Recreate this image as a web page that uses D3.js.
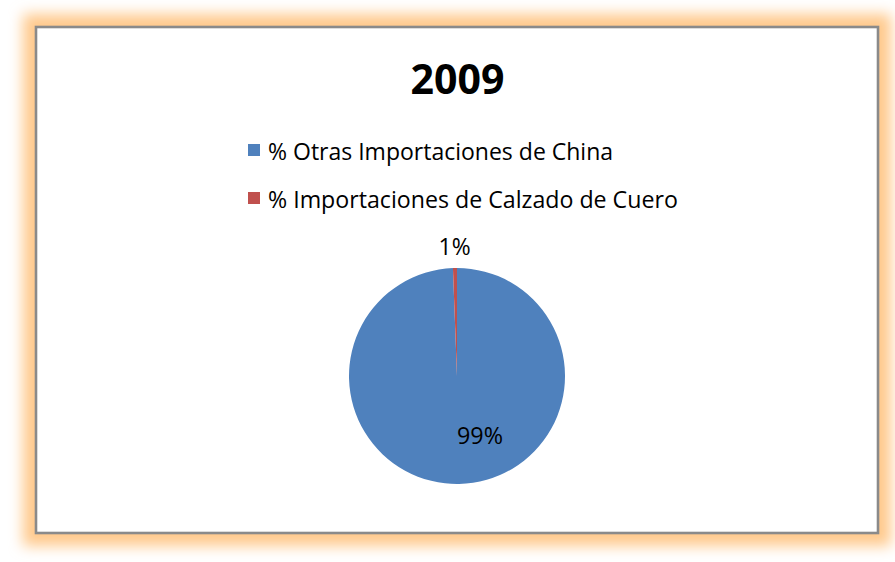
<!DOCTYPE html>
<html>
<head>
<meta charset="utf-8">
<script src="https://cdn.jsdelivr.net/npm/d3@7"></script>
<style>
  html, body { margin: 0; padding: 0; background: #ffffff; }
  svg { display: block; }
  text { font-family: "Open Sans", "Noto Sans", "DejaVu Sans", sans-serif; fill: #000; }
</style>
</head>
<body>
<svg id="chart" width="895" height="562"></svg>
<script>
// Share of imports from China, 2009
const title = "2009";
const categories = ["% Otras Importaciones de China", "% Importaciones de Calzado de Cuero"];
const shares = [99.4, 0.6];
const colors = ["#4F81BD", "#C0504D"];

const W = 895, H = 562;
const svg = d3.select("#chart");

// Frame: soft orange glow behind a white panel with a grey border
const frame = { x: 36, y: 27, w: 842, h: 506 };
const defs = svg.append("defs");
const glow = defs.append("filter").attr("id", "glow")
  .attr("x", "-10%").attr("y", "-10%").attr("width", "120%").attr("height", "120%");
glow.append("feMorphology").attr("operator", "dilate").attr("radius", 13).attr("in", "SourceGraphic").attr("result", "d");
glow.append("feGaussianBlur").attr("in", "d").attr("stdDeviation", 7);

svg.append("rect").attr("x", frame.x).attr("y", frame.y)
  .attr("width", frame.w).attr("height", frame.h)
  .attr("fill", "#FFC98C").attr("filter", "url(#glow)");
svg.append("rect").attr("x", frame.x).attr("y", frame.y)
  .attr("width", frame.w).attr("height", frame.h)
  .attr("fill", "#ffffff").attr("stroke", "#8a8a8a").attr("stroke-width", 2.6);

// Fit a text element to a target width
function fitWidth(sel, target) {
  const node = sel.node();
  const base = parseFloat(sel.attr("font-size"));
  const w = node.getComputedTextLength();
  sel.attr("font-size", (base * target / w).toFixed(2));
}

// Title
const t = svg.append("text").attr("x", 457.5).attr("y", 78)
  .attr("text-anchor", "middle").attr("dominant-baseline", "central")
  .attr("font-weight", "bold").attr("font-size", 40).text(title);
fitWidth(t, 94);

// Legend
const legend = svg.append("g");
const legendY = d3.scaleBand().domain(categories).range([126, 222]);
const legendTargets = [345, 410];
categories.forEach((c, i) => {
  const cy = legendY(c) + legendY.bandwidth() / 2;
  legend.append("rect").attr("x", 248).attr("y", cy - 6)
    .attr("width", 12).attr("height", 12).attr("fill", colors[i]);
  const lt = legend.append("text").attr("x", 268).attr("y", cy + 1)
    .attr("dominant-baseline", "central").attr("font-size", 22).text(c);
  fitWidth(lt, legendTargets[i]);
});

// Pie: first slice starts at 12 o'clock, clockwise
const cx = 457, cy = 376, r = 108;
const pie = d3.pie().sort(null).value(d => d)(shares);
const arc = d3.arc().innerRadius(0).outerRadius(r);
const g = svg.append("g").attr("transform", `translate(${cx},${cy})`);
g.selectAll("path").data(pie).join("path")
  .attr("d", arc)
  .attr("fill", (d, i) => colors[i]);

// Data labels
const fmt = v => d3.format(".0f")(v) + "%";
const outer = d3.arc().innerRadius(r + 22).outerRadius(r + 22);
const labelPos = [
  [23, 59],                 // inside the large slice
  outer.centroid(pie[1])    // just outside the thin slice
];
const labelTargets = [46, 32];
pie.forEach((d, i) => {
  const lt = g.append("text")
    .attr("x", labelPos[i][0]).attr("y", labelPos[i][1])
    .attr("text-anchor", "middle").attr("dominant-baseline", "central")
    .attr("font-size", 22).text(fmt(d.data));
  fitWidth(lt, labelTargets[i]);
});
</script>
</body>
</html>
